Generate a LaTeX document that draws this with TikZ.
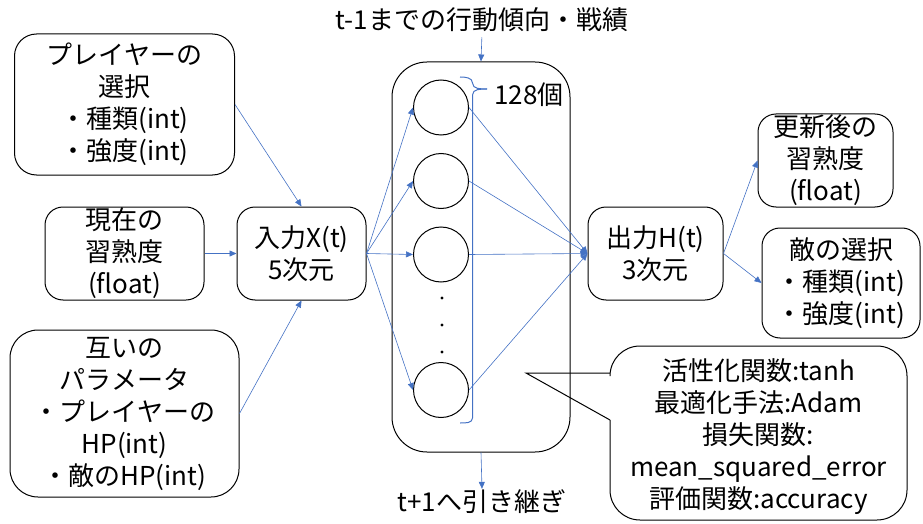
\documentclass[tikz,border=0pt]{standalone}
\usepackage{fontspec}
\setmainfont{Noto Sans CJK JP}
\usetikzlibrary{arrows.meta}
\definecolor{lineblue}{RGB}{68,114,196}
\tikzset{
  box/.style={draw=black, line width=1pt, align=center, inner sep=0pt,
    font=\fontsize{26}{32}\selectfont},
  txt/.style={align=center, inner sep=1pt, font=\fontsize{26}{32}\selectfont},
  neuron/.style={circle, draw=black, line width=1pt, minimum size=55pt, inner sep=0pt},
  conn/.style={draw=lineblue, line width=0.6pt, -{Triangle[length=7pt,width=6pt]}},
}
\begin{document}
\begin{tikzpicture}[x=1pt, y=-1pt]
\useasboundingbox (0,0) rectangle (923,524);

% input boxes
\node[box, rounded corners=22pt, minimum width=220pt, minimum height=141pt] (A) at (124.5,104.5)
  {プレイヤーの\\選択\\・種類(int)\\・強度(int)};
\node[box, rounded corners=18pt, minimum width=159pt, minimum height=93pt] (B) at (124.5,253.5)
  {現在の\\習熟度\\(float)};
\node[box, rounded corners=28pt, minimum width=229pt, minimum height=167pt] (C) at (124.5,413.5)
  {互いの\\パラメータ\\・プレイヤーの\\HP(int)\\・敵のHP(int)};

\node[box, rounded corners=18pt, minimum width=129pt, minimum height=93pt] (X) at (301.5,253.5)
  {入力X(t)\\5次元};

% container
\node[draw=black, line width=1pt, rounded corners=35pt, minimum width=178pt, minimum height=390pt, inner sep=0pt] (N) at (481,257) {};

\node[neuron] (c1) at (441,107.5) {};
\node[neuron] (c2) at (441,181) {};
\node[neuron] (c3) at (441,254.5) {};
\node[neuron] (c4) at (441,390) {};
\fill (442,298) circle (1.6pt);
\fill (442,325) circle (1.6pt);
\fill (442,352) circle (1.6pt);

% brace
\draw[lineblue, line width=1pt] (460,77) to[out=0,in=90] (472.5,83) to[out=-90,in=180] (487,89);
\draw[lineblue, line width=1pt] (487,89) to[out=180,in=90] (472.5,95) -- (472.5,418) to[out=-90,in=0] (460,423);
\node[txt] (cnt) at (529,95) {128個};

% output
\node[box, rounded corners=18pt, minimum width=135pt, minimum height=93pt] (Y) at (655.5,253.5)
  {出力H(t)\\3次元};
\node[box, rounded corners=18pt, minimum width=135pt, minimum height=93pt] (R1) at (825.5,160.5)
  {更新後の\\習熟度\\(float)};
\node[box, rounded corners=18pt, minimum width=158pt, minimum height=110pt] (R2) at (841,283)
  {敵の選択\\・種類(int)\\・強度(int)};

% top / bottom texts
\node[txt] (T) at (482,20) {t-1までの行動傾向・戦績};
\node[txt] (Bt) at (482,502) {t+1へ引き継ぎ};

% callout
\draw[line width=1pt, rounded corners=30pt] (610,420) -- (610,520) -- (907,520) -- (907,346) -- (610,346) -- (610,373);
\draw[line width=1pt, line join=miter] (610,373) -- (526,373) -- (610,420);
\node[txt] (CO) at (758.5,437) {活性化関数:tanh\\最適化手法:Adam\\損失関数:\\mean\_squared\_error\\評価関数:accuracy};

% connectors
\draw[conn] (A.east) -- (X.north);
\draw[conn] (B.east) -- (X.west);
\draw[conn] (C.east) -- (X.south);
\foreach \c in {c1,c2,c3,c4} {
  \draw[conn] (X.east) -- (\c.west);
  \draw[conn] (\c.east) -- (Y.west);
}
\draw[conn] (Y.east) -- (R1.west);
\draw[conn] (Y.east) -- (R2.west);
\draw[conn, shorten <=4pt] (T.south) -- (N.north);
\draw[conn] (N.south) -- (Bt.north);
\end{tikzpicture}
\end{document}
